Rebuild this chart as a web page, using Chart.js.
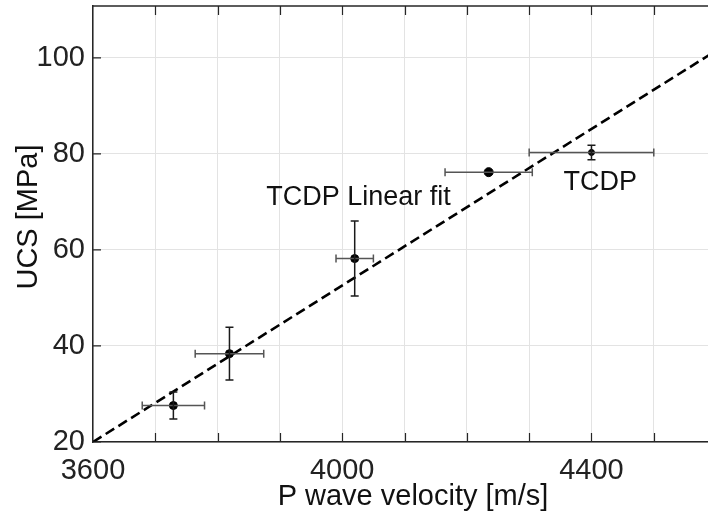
<!DOCTYPE html>
<html lang="en">
<head>
    <meta charset="UTF-8">
    <title>UCS vs P wave velocity</title>
    <script src="https://cdn.jsdelivr.net/npm/chart.js"></script>
    <style>
        body {
            margin: 0;
            background: #ffffff;
            overflow: hidden;
        }
        #wrap {
            position: relative;
            width: 708px;
            height: 514px;
        }
    </style>
</head>
<body>

    <div id="wrap"><canvas id="grafico"></canvas></div>

    <script>
        // Measured points (TCDP)
        const velocity = [3729, 3819, 4020, 4235, 4400];
        const ucs = [27.6, 38.4, 58.2, 76.2, 80.3];
        const velocityErr = [50, 55, 30, 70, 100];
        const ucsErr = [2.8, 5.5, 7.8, 0, 1.5];

        // Linear fit end points
        const fitVelocity = [3600, 4600];
        const fitUcs = [20, 101.5];

        const xTicks = [3600, 4000, 4400];
        const yTicks = [20, 40, 60, 80, 100];

        // Text labels placed in data coordinates
        const notes = [
            { text: 'TCDP Linear fit', x: 4026, y: 71 },
            { text: 'TCDP', x: 4414, y: 74 }
        ];

        const FONT = "'Liberation Sans', Arial, Helvetica, sans-serif";
        const INK = '#222222';

        // error bars, inward tick marks, top frame, axis titles and notes
        const extras = {
            id: 'extras',
            afterDatasetsDraw(chart) {
                const c = chart.ctx;
                const xs = chart.scales.x;
                const ys = chart.scales.y;
                const cap = 4;
                c.save();
                c.lineWidth = 1.5;
                for (let i = 0; i < velocity.length; i++) {
                    const px = xs.getPixelForValue(velocity[i]);
                    const py = ys.getPixelForValue(ucs[i]);
                    // horizontal
                    const x1 = xs.getPixelForValue(velocity[i] - velocityErr[i]);
                    const x2 = xs.getPixelForValue(velocity[i] + velocityErr[i]);
                    c.strokeStyle = '#555555';
                    c.beginPath();
                    c.moveTo(x1, py); c.lineTo(x2, py);
                    c.moveTo(x1, py - cap); c.lineTo(x1, py + cap);
                    c.moveTo(x2, py - cap); c.lineTo(x2, py + cap);
                    c.stroke();
                    // vertical
                    if (ucsErr[i] > 0) {
                        const y1 = ys.getPixelForValue(ucs[i] - ucsErr[i]);
                        const y2 = ys.getPixelForValue(ucs[i] + ucsErr[i]);
                        c.strokeStyle = '#1a1a1a';
                        c.beginPath();
                        c.moveTo(px, y1); c.lineTo(px, y2);
                        c.moveTo(px - cap, y1); c.lineTo(px + cap, y1);
                        c.moveTo(px - cap, y2); c.lineTo(px + cap, y2);
                        c.stroke();
                    }
                }
                c.restore();
            },
            afterDraw(chart) {
                const c = chart.ctx;
                const a = chart.chartArea;
                const xs = chart.scales.x;
                const ys = chart.scales.y;
                c.save();
                c.strokeStyle = '#262626';
                c.lineWidth = 1.5;
                c.beginPath();
                c.moveTo(a.left, a.top); c.lineTo(a.right, a.top);
                c.stroke();
                c.lineWidth = 1.2;
                c.beginPath();
                for (let v = 3700; v < xs.max; v += 100) {
                    const p = Math.round(xs.getPixelForValue(v)) + 0.5;
                    c.moveTo(p, a.bottom); c.lineTo(p, a.bottom - 9);
                    c.moveTo(p, a.top); c.lineTo(p, a.top + 9);
                }
                yTicks.forEach(v => {
                    const p = ys.getPixelForValue(v);
                    c.moveTo(a.left, p); c.lineTo(a.left + 8, p);
                });
                c.stroke();

                c.fillStyle = '#111111';
                c.font = '29px ' + FONT;
                c.textAlign = 'center';
                c.textBaseline = 'middle';
                c.fillText('P wave velocity [m/s]', 413, 497);
                c.save();
                c.translate(29, 217);
                c.rotate(-Math.PI / 2);
                c.fillText('UCS [MPa]', 0, 0);
                c.restore();

                c.font = '27px ' + FONT;
                notes.forEach(n => {
                    c.fillText(n.text, xs.getPixelForValue(n.x), ys.getPixelForValue(n.y));
                });
                c.restore();
            }
        };

        const ctx = document.getElementById('grafico').getContext('2d');
        const grafico = new Chart(ctx, {
            type: 'scatter',
            data: {
                datasets: [
                    {
                        label: 'TCDP Linear fit',
                        type: 'line',
                        data: fitVelocity.map((v, i) => ({ x: v, y: fitUcs[i] })),
                        borderColor: '#000000',
                        borderWidth: 2.6,
                        borderDash: [10, 5],
                        pointRadius: 0,
                        fill: false
                    },
                    {
                        label: 'TCDP',
                        data: velocity.map((v, i) => ({ x: v, y: ucs[i] })),
                        backgroundColor: '#000000',
                        borderColor: '#000000',
                        pointRadius: [4, 4, 4, 4.5, 3],
                        pointHoverRadius: 4
                    }
                ]
            },
            options: {
                responsive: true,
                maintainAspectRatio: false,
                animation: false,
                layout: {
                    autoPadding: false,
                    padding: { top: 6, right: 0, left: 0, bottom: 0 }
                },
                plugins: {
                    legend: { display: false },
                    tooltip: { enabled: false }
                },
                scales: {
                    x: {
                        type: 'linear',
                        min: 3600,
                        max: 4587,
                        afterFit(scale) {
                            scale.height = 72;
                            scale.paddingLeft = 0;
                            scale.paddingRight = 0;
                        },
                        afterBuildTicks(scale) {
                            const t = [];
                            for (let v = 3600; v <= 4587; v += 100) t.push({ value: v });
                            scale.ticks = t;
                        },
                        ticks: {
                            autoSkip: false,
                            maxRotation: 0,
                            padding: 12,
                            color: INK,
                            font: { family: FONT, size: 29 },
                            callback: v => xTicks.includes(v) ? String(v) : ''
                        },
                        grid: { color: '#e3e3e3', lineWidth: 1, drawTicks: false },
                        border: { color: '#262626', width: 1.5 }
                    },
                    y: {
                        type: 'linear',
                        min: 20,
                        max: 110.8,
                        afterFit(scale) {
                            scale.width = 93;
                            scale.paddingTop = 0;
                            scale.paddingBottom = 0;
                        },
                        afterBuildTicks(scale) {
                            scale.ticks = yTicks.map(v => ({ value: v }));
                        },
                        ticks: {
                            padding: 8,
                            color: INK,
                            font: { family: FONT, size: 29 }
                        },
                        grid: { color: '#e3e3e3', lineWidth: 1, drawTicks: false },
                        border: { color: '#262626', width: 1.5 }
                    }
                }
            },
            plugins: [extras]
        });
    </script>

</body>
</html>
